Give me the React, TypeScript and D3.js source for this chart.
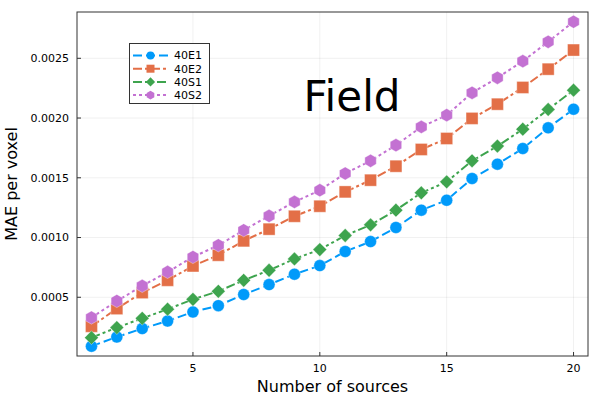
import * as d3 from "d3";

// number of sources on the x axis
const sources = d3.range(1, 21);

const e1 = [0.00009, 0.000168, 0.000238, 0.000301, 0.000377, 0.00043, 0.000523, 0.000606, 0.000693, 0.000765,
  0.000883, 0.000966, 0.001084, 0.001229, 0.001312, 0.001494, 0.001614, 0.001745, 0.001918, 0.002074];
const e2 = [0.000257, 0.000405, 0.000539, 0.000642, 0.000762, 0.000852, 0.000972, 0.00107, 0.001178, 0.001262,
  0.001382, 0.00148, 0.001597, 0.001737, 0.001829, 0.001997, 0.002116, 0.002256, 0.002409, 0.002569];
const s1 = [0.000162, 0.000246, 0.000324, 0.0004, 0.000483, 0.00055, 0.000642, 0.000726, 0.000821, 0.000899,
  0.001017, 0.001106, 0.001229, 0.001374, 0.001466, 0.001642, 0.001765, 0.001907, 0.002072, 0.002233];
const s2 = [0.00033, 0.000469, 0.000595, 0.000712, 0.000837, 0.000935, 0.001061, 0.001181, 0.001298, 0.001396,
  0.001536, 0.001642, 0.001773, 0.001926, 0.002024, 0.002211, 0.002337, 0.002476, 0.002638, 0.002806];

const xTicks = [5, 10, 15, 20];
const yTicks = [0.0005, 0.001, 0.0015, 0.002, 0.0025];

type Shape = "circle" | "square" | "diamond" | "hexagon";
const series: { name: string; values: number[]; color: string; dash: string; shape: Shape }[] = [
  { name: "40E1", values: e1, color: "#009AFA", dash: "9,4", shape: "circle" },
  { name: "40E2", values: e2, color: "#E36F47", dash: "9,3,3,3", shape: "square" },
  { name: "40S1", values: s1, color: "#3EA44E", dash: "9,3,3,3,3,3", shape: "diamond" },
  { name: "40S2", values: s2, color: "#C371D2", dash: "3,3", shape: "hexagon" },
];

const W = 600;
const H = 400;
const m = { left: 77, right: 588, top: 12, bottom: 356 };
const font = "DejaVu Sans, sans-serif";

function markerPath(shape: Shape, r: number): string {
  if (shape === "circle") return d3.symbol(d3.symbolCircle, Math.PI * r * r)() ?? "";
  if (shape === "square") return `M${-r},${-r}H${r}V${r}H${-r}Z`;
  if (shape === "diamond") {
    const d = r * 1.15;
    return `M0,${-d}L${d},0L0,${d}L${-d},0Z`;
  }
  const pts = d3.range(6).map((i) => {
    const a = (Math.PI / 3) * i - Math.PI / 2;
    return [r * 1.1 * Math.cos(a), r * 1.1 * Math.sin(a)];
  });
  return "M" + pts.map((p) => p.join(",")).join("L") + "Z";
}

export default function App() {
  const all = series.flatMap((s) => s.values);
  const yMin = d3.min(all) ?? 0;
  const yMax = d3.max(all) ?? 1;
  const pad = (yMax - yMin) * 0.03;
  const x = d3.scaleLinear().domain([1 - 19 * 0.03, 20 + 19 * 0.03]).range([m.left, m.right]);
  const y = d3.scaleLinear().domain([yMin - pad, yMax + pad]).range([m.bottom, m.top]);
  const line = d3
    .line<number>()
    .x((_, i) => x(sources[i]))
    .y((v) => y(v));
  const fmt = d3.format(".4f");

  return (
    <svg width={W} height={H} style={{ display: "block", position: "absolute", left: 0, top: 0 }}>
      <rect width={W} height={H} fill="white" />
      {/* grid */}
      {xTicks.map((t) => (
        <line key={"gx" + t} x1={x(t)} x2={x(t)} y1={m.top} y2={m.bottom} stroke="#000" strokeOpacity={0.1} strokeWidth={0.6} />
      ))}
      {yTicks.map((t) => (
        <line key={"gy" + t} x1={m.left} x2={m.right} y1={y(t)} y2={y(t)} stroke="#000" strokeOpacity={0.1} strokeWidth={0.6} />
      ))}
      {/* series */}
      {series.map((s) => (
        <g key={s.name}>
          <path d={line(s.values) ?? ""} fill="none" stroke={s.color} strokeWidth={2} strokeDasharray={s.dash} />
          {s.values.map((v, i) => (
            <path
              key={i}
              d={markerPath(s.shape, 6)}
              transform={`translate(${x(sources[i])},${y(v)})`}
              fill={s.color}
              stroke="#fff"
              strokeOpacity={0.35}
              strokeWidth={1}
            />
          ))}
        </g>
      ))}
      {/* frame */}
      <rect x={m.left} y={m.top} width={m.right - m.left} height={m.bottom - m.top} fill="none" stroke="#333" strokeWidth={1} />
      {xTicks.map((t) => (
        <g key={"tx" + t}>
          <line x1={x(t)} x2={x(t)} y1={m.bottom} y2={m.bottom - 4} stroke="#333" />
          <text x={x(t)} y={372} textAnchor="middle" fontFamily={font} fontSize={11}>
            {t}
          </text>
        </g>
      ))}
      {yTicks.map((t) => (
        <g key={"ty" + t}>
          <line x1={m.left} x2={m.left + 4} y1={y(t)} y2={y(t)} stroke="#333" />
          <text x={69} y={y(t)} dy="0.35em" textAnchor="end" fontFamily={font} fontSize={11}>
            {fmt(t)}
          </text>
        </g>
      ))}
      <text x={(m.left + m.right) / 2} y={392} textAnchor="middle" fontFamily={font} fontSize={16}>
        Number of sources
      </text>
      <text transform={`translate(17,${(m.top + m.bottom) / 2}) rotate(-90)`} textAnchor="middle" fontFamily={font} fontSize={16}>
        MAE per voxel
      </text>
      <text x={352} y={111} textAnchor="middle" fontFamily={font} fontSize={42}>
        Field
      </text>
      {/* legend */}
      <rect x={129.5} y={43.5} width={80} height={60} fill="white" stroke="#333" strokeWidth={1} />
      {series.map((s, i) => {
        const ly = 55.5 + i * 13.2;
        return (
          <g key={"lg" + s.name}>
            <line x1={133} x2={168} y1={ly} y2={ly} stroke={s.color} strokeWidth={2} strokeDasharray={s.dash} />
            <path d={markerPath(s.shape, 4)} transform={`translate(150.5,${ly})`} fill={s.color} />
            <text x={174} y={ly} dy="0.35em" fontFamily={font} fontSize={11}>
              {s.name}
            </text>
          </g>
        );
      })}
    </svg>
  );
}
